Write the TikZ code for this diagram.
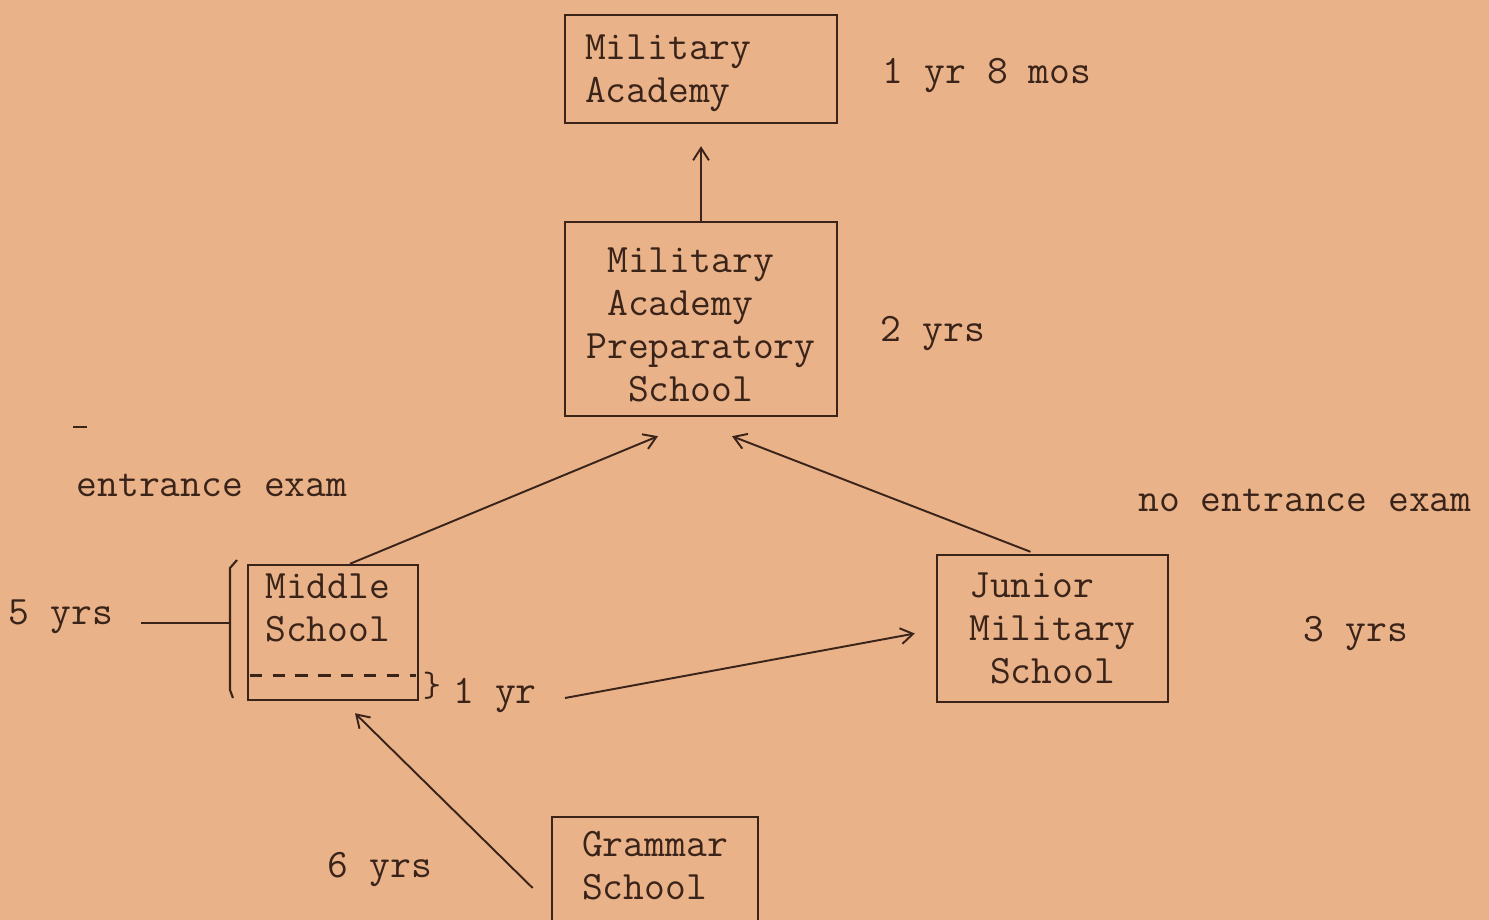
\documentclass[tikz,border=0pt]{standalone}
\usetikzlibrary{arrows.meta,calc}
\definecolor{paper}{RGB}{233,178,137}
\definecolor{ink}{RGB}{58,36,26}
\newcommand{\tsp}{\hphantom{x}}
\begin{document}
\begin{tikzpicture}[x=0.02cm,y=-0.02cm,
  every node/.style={font=\fontsize{23}{24.4}\selectfont\ttfamily, text=ink, inner sep=0pt},
  box/.style={draw=ink, line width=1.4pt},
  boxline/.style={draw=ink, line width=1.3pt},
  arr/.style={draw=ink, line width=1.1pt, -{Straight Barb[length=7pt,width=9pt]}},
]
\fill[paper] (0,0) rectangle (1489,920);
\useasboundingbox (0,0) rectangle (1489,920);
\clip (0,0) rectangle (1489,920);

% schools
\node[box, minimum width=5.44cm, minimum height=2.16cm, text width=4.64cm,
      inner xsep=0.4cm, align=left] (acad) at (701,69) {\rule{0pt}{18.5pt}Military\\Academy};
\node[box, minimum width=5.44cm, minimum height=3.88cm, align=left] (prep) at (701,319)
  {\rule{0pt}{21pt}\tsp Military\\\tsp Academy\\Preparatory\\\tsp\tsp School};
\node[box, minimum width=3.4cm, minimum height=2.7cm] (middle) at (333,632.5) {};
\node[anchor=west, align=left] (middletext) at (265,608) {Middle\\School};
\node[box, minimum width=4.62cm, minimum height=2.94cm, align=left] (junior) at (1052.5,628.5)
  {Junior\\Military\\\tsp School};
\node[minimum width=4.12cm, minimum height=1.96cm, align=left] (grammar) at (655,866)
  {Grammar\\School};
\draw[boxline] ($(grammar.south west)+(0,30)$) -- (grammar.north west)
  -- (grammar.north east) -- ($(grammar.south east)+(0,30)$);

% durations and notes
\node (acadyrs) at (987,76) {1 yr 8 mos};
\node (prepyrs) at (933,334) {2 yrs};
\node (exam) at (212,485) {entrance exam};
\node (noexam) at (1305,500) {no entrance exam};
\node (junioryrs) at (1356,634) {3 yrs};
\node (gramyrs) at (380,870) {6 yrs};
\node (midyrs) at (61,617) {5 yrs};
\node (oneyr) at (495,696) {1 yr};
\node[font=\fontsize{20}{20}\selectfont\ttfamily] (brace) at (432,686) {\}};
\draw[ink, line width=1pt] (73,427) -- (87,427);

% bracket around the middle school
\draw[ink, line width=1.2pt] (237,560) -- (230,568) -- (230,690) -- (233,698);
\coordinate (brk) at (230,623);
\draw[ink, line width=1.4pt] ($(midyrs.east)+(28,6)$) -- (brk);
\draw[ink, line width=1.2pt, dash pattern=on 7pt off 6pt]
  ($(middle.west)+(3,43)$) -- ($(middle.east)+(-3,43)$);

% transfers
\draw[arr] (prep.north) -- ($(acad.south)+(0,22)$);
\draw[arr] ($(middle.north)+(17,0)$) -- ($(prep.south)+(-43,19)$);
\draw[arr] ($(junior.north)+(-22,-2)$) -- ($(prep.south)+(31,19)$);
\draw[arr] ($(oneyr.east)+(28,2)$) -- ($(junior.west)+(-21,5)$);
\draw[arr] ($(grammar.west)+(-19,22)$) -- ($(middle.south)+(22,12)$);
\end{tikzpicture}
\end{document}
